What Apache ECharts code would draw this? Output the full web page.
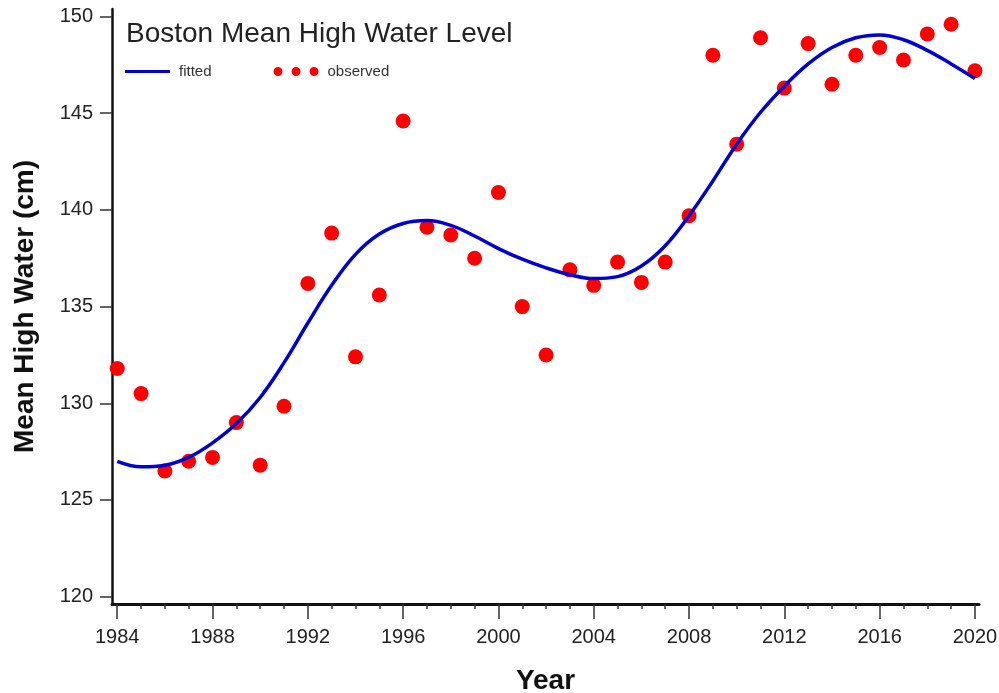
<!DOCTYPE html>
<html>
<head>
<meta charset="utf-8">
<script src="https://cdn.jsdelivr.net/npm/echarts@6/dist/echarts.min.js"></script>
<style>
html,body{margin:0;padding:0;background:#fff;}
#chart{width:999px;height:693px;}
</style>
</head>
<body>
<div id="chart"></div>
<script>
const years = [1984,1985,1986,1987,1988,1989,1990,1991,1992,1993,1994,1995,1996,1997,1998,1999,2000,2001,2002,2003,2004,2005,2006,2007,2008,2009,2010,2011,2012,2013,2014,2015,2016,2017,2018,2019,2020];
const observed = [131.8,130.5,126.5,127.0,127.2,129.0,126.8,129.85,136.2,138.8,132.4,135.6,144.6,139.1,138.7,137.5,140.9,135.0,132.5,136.9,136.1,137.3,136.25,137.3,139.7,148.0,143.4,148.9,146.3,148.6,146.5,148.0,148.4,147.75,149.1,149.6,147.2];
const fitted = [127.0,126.72,126.8,127.2,127.95,128.95,130.3,132.1,134.15,136.1,137.7,138.75,139.3,139.45,139.2,138.65,138.0,137.45,137.0,136.65,136.45,136.55,137.1,138.15,139.7,141.5,143.4,145.05,146.4,147.55,148.4,148.9,149.05,148.8,148.25,147.55,146.8];
const xTickLabels = [1984,1988,1992,1996,2000,2004,2008,2012,2016,2020];
const yTickLabels = [120,125,130,135,140,145,150];

const font = "'Liberation Sans', Arial, sans-serif";
const chart = echarts.init(document.getElementById('chart'), null, {renderer:'canvas'});
const xMin = 1983.78, xMax = 2020.17;

chart.setOption({
  animation: false,
  backgroundColor: '#fff',
  title: {
    text: 'Boston Mean High Water Level',
    left: 126, top: 20, padding: 0,
    textStyle: {fontFamily: font, fontSize: 28, fontWeight: 'normal', color: '#222'}
  },
  legend: {
    left: 125, top: 64, padding: 0,
    itemGap: 62,
    itemWidth: 45, itemHeight: 9,
    textStyle: {fontFamily: font, fontSize: 15, color: '#333', padding: [0,0,0,4]},
    data: [
      {name: 'fitted', icon: 'path://M0,0 L43,0 L43,3 L0,3 Z'},
      {name: 'observed', icon: 'path://M0,4.5 A4.5,4.5 0 1 0 9,4.5 A4.5,4.5 0 1 0 0,4.5 Z M18,4.5 A4.5,4.5 0 1 0 27,4.5 A4.5,4.5 0 1 0 18,4.5 Z M36,4.5 A4.5,4.5 0 1 0 45,4.5 A4.5,4.5 0 1 0 36,4.5 Z'}
    ]
  },
  grid: {left: 112, right: 20, top: 9, bottom: 89, containLabel: false, outerBoundsMode: 'none'},
  xAxis: [{
    type: 'value', min: xMin, max: xMax,
    name: 'Year', nameLocation: 'middle', nameGap: 63,
    nameTextStyle: {fontFamily: font, fontSize: 28, fontWeight: 'bold', color: '#111'},
    axisLine: {lineStyle: {color: '#111', width: 3}},
    axisTick: {customValues: xTickLabels, length: 15, lineStyle: {color: '#333', width: 1.5}},
    axisLabel: {customValues: xTickLabels, margin: 23, formatter: v => String(v),
      fontFamily: font, fontSize: 20, color: '#222'},
    splitLine: {show: false}
  }, {
    type: 'value', min: xMin, max: xMax, position: 'bottom',
    axisLine: {show: false},
    axisTick: {customValues: years, length: 5, lineStyle: {color: '#333', width: 1.5}},
    axisLabel: {show: false},
    splitLine: {show: false}
  }],
  yAxis: {
    type: 'value', min: 119.62, max: 150.39,
    name: 'Mean High Water (cm)', nameLocation: 'middle', nameGap: 73,
    nameTextStyle: {fontFamily: font, fontSize: 28, fontWeight: 'bold', color: '#111'},
    axisLine: {show: true, lineStyle: {color: '#111', width: 2.5}},
    axisTick: {show: true, customValues: yTickLabels, length: 12, lineStyle: {color: '#333', width: 1.5}},
    axisLabel: {customValues: yTickLabels, margin: 19, formatter: v => String(v),
      fontFamily: font, fontSize: 20, color: '#222'},
    splitLine: {show: false}
  },
  series: [{
    name: 'fitted', type: 'line', xAxisIndex: 0,
    data: years.map((y, i) => [y, fitted[i]]),
    smooth: 0.4, showSymbol: false, symbol: 'none',
    color: '#0000d0',
    itemStyle: {color: '#0000d0'},
    lineStyle: {color: '#0000d0', width: 3.5}
  }, {
    name: 'observed', type: 'scatter', xAxisIndex: 0,
    data: years.map((y, i) => [y, observed[i]]),
    symbol: 'circle', symbolSize: 15,
    color: '#ff0000',
    itemStyle: {color: '#ff0000', opacity: 1}
  }]
});
</script>
</body>
</html>
